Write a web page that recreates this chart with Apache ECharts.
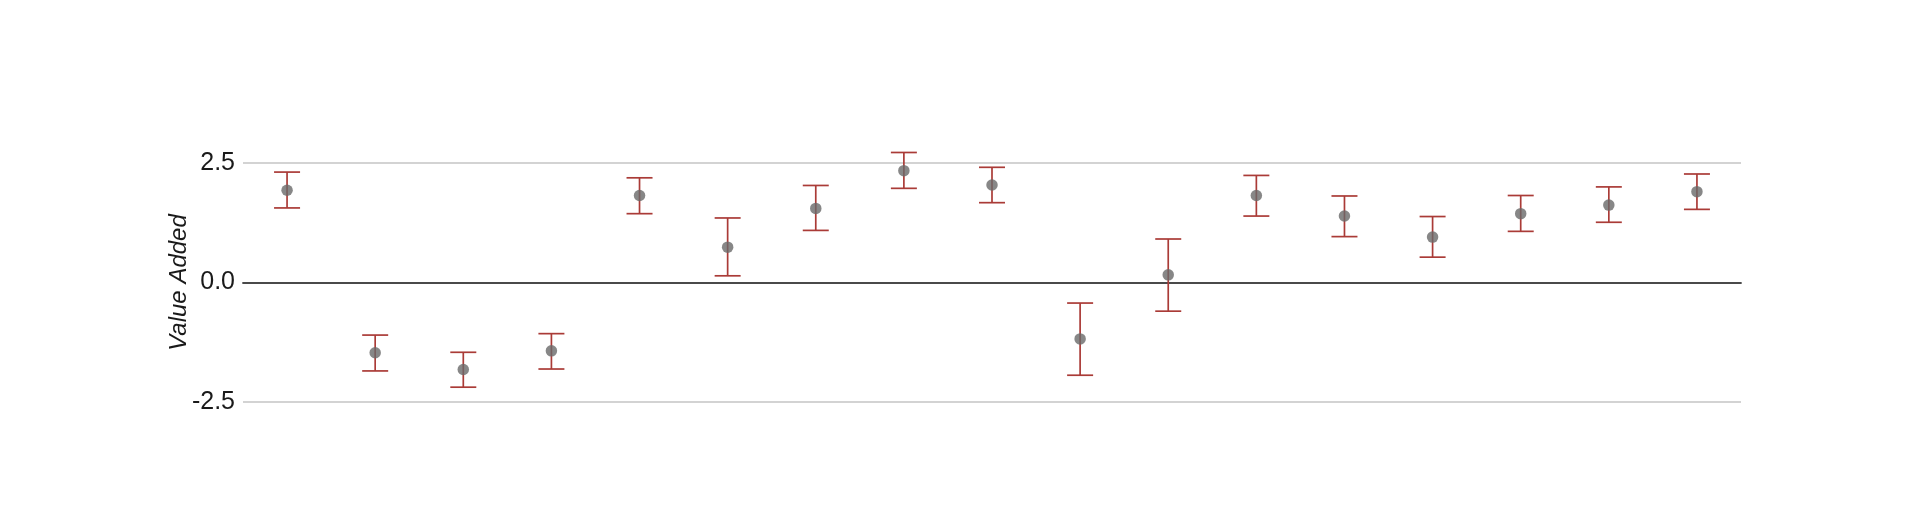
<!DOCTYPE html>
<html>
<head>
<meta charset="utf-8">
<script src="https://cdn.jsdelivr.net/npm/echarts@6/dist/echarts.min.js"></script>
<style>
html,body{margin:0;padding:0;background:#fff;}
#chart{width:1920px;height:520px;}
</style>
</head>
<body>
<div id="chart"></div>
<script>
const categories = ['1','2','3','4','5','6','7','8','9','10','11','12','13','14','15','16','17'];
const valueAdded = [1.93, -1.47, -1.82, -1.43, 1.82, 0.74, 1.55, 2.34, 2.04, -1.18, 0.16, 1.82, 1.39, 0.95, 1.44, 1.62, 1.90];
const upperBound = [2.31, -1.10, -1.46, -1.07, 2.19, 1.35, 2.03, 2.72, 2.41, -0.43, 0.91, 2.24, 1.81, 1.38, 1.82, 2.00, 2.27];
const lowerBound = [1.56, -1.85, -2.19, -1.81, 1.44, 0.14, 1.09, 1.97, 1.67, -1.94, -0.60, 1.39, 0.96, 0.53, 1.07, 1.26, 1.53];
const yTicks = [-2.5, 0, 2.5];

const chart = echarts.init(document.getElementById('chart'), null, {renderer: 'canvas'});

const errData = categories.map((c, i) => [i, lowerBound[i], upperBound[i]]);
const fontFam = '"Liberation Sans", Arial, Helvetica, sans-serif';

chart.setOption({
  animation: false,
  backgroundColor: '#ffffff',
  grid: {left: 243, right: 179, top: 163, bottom: 118, containLabel: false},
  xAxis: {
    type: 'category',
    data: categories,
    boundaryGap: true,
    axisLabel: {show: false},
    axisTick: {show: false},
    axisLine: {show: true, onZero: true, lineStyle: {color: '#4a4a4a', width: 1.8}},
    splitLine: {show: false}
  },
  yAxis: {
    type: 'value',
    min: yTicks[0],
    max: yTicks[yTicks.length - 1],
    interval: 2.5,
    name: 'Value Added',
    nameLocation: 'middle',
    nameGap: 52,
    nameMoveOverlap: false,
    nameTextStyle: {fontFamily: fontFam, fontStyle: 'italic', fontSize: 24, color: '#1a1a1a'},
    axisLine: {show: false},
    axisTick: {show: false},
    axisLabel: {
      fontFamily: fontFam, fontSize: 25, color: '#1a1a1a', margin: 8,
      formatter: v => v.toFixed(1)
    },
    splitLine: {show: true, lineStyle: {color: '#d3d3d3', width: 1.8}}
  },
  series: [
    {
      type: 'custom',
      clip: false,
      z: 3,
      data: errData,
      renderItem: function (params, api) {
        const x = api.value(0);
        const lo = api.coord([x, api.value(1)]);
        const hi = api.coord([x, api.value(2)]);
        const hw = 13;
        const style = {stroke: '#aa3b37', lineWidth: 1.7, fill: null};
        return {
          type: 'group',
          children: [
            {type: 'line', shape: {x1: hi[0], y1: hi[1], x2: lo[0], y2: lo[1]}, style: style},
            {type: 'line', shape: {x1: hi[0] - hw, y1: hi[1], x2: hi[0] + hw, y2: hi[1]}, style: style},
            {type: 'line', shape: {x1: lo[0] - hw, y1: lo[1], x2: lo[0] + hw, y2: lo[1]}, style: style}
          ]
        };
      }
    },
    {
      type: 'scatter',
      z: 4,
      clip: false,
      symbol: 'circle',
      symbolSize: 11.5,
      itemStyle: {color: '#696969'},
      data: valueAdded
    }
  ]
});
</script>
</body>
</html>
